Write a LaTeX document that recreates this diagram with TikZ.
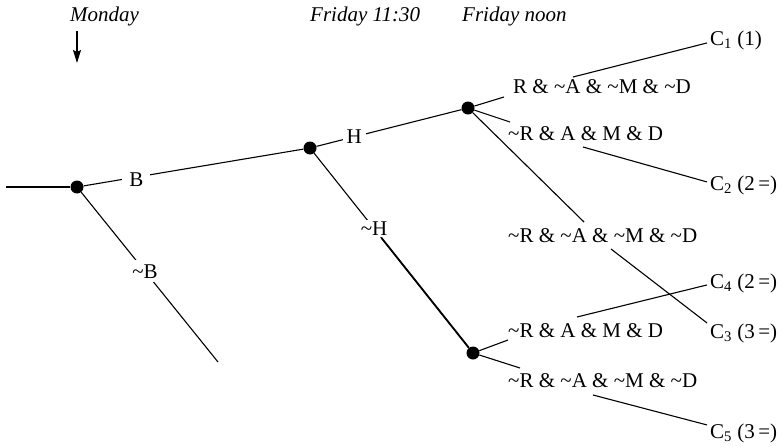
\documentclass[tikz,border=0pt]{standalone}
\usepackage{fontspec}
\setmainfont{Liberation Serif}
\usetikzlibrary{arrows.meta}
\newcommand\nt{\textasciitilde}
\begin{document}
\begin{tikzpicture}[x=1pt,y=-1pt,
  every node/.style={font=\fontsize{21}{25}\selectfont},
  ln/.style={line width=1.1pt},
  dot/.style={circle,fill=black,inner sep=0pt,minimum size=13pt},
  lbl/.style={fill=white,inner sep=4pt},
  txt/.style={anchor=base west,inner sep=0pt},
  cl/.style={anchor=base west,inner xsep=3pt,inner ysep=2pt},
  ttl/.style={anchor=base west,inner sep=0pt,font=\fontsize{21}{25}\selectfont\itshape}]
\useasboundingbox (0,0) rectangle (782,447);
% titles
\node[ttl] (mon) at (70,21) {Monday};
\node[ttl] (f1130) at (310,21) {Friday 11:30};
\node[ttl] (fnoon) at (462,21) {Friday noon};
\coordinate (a0) at (77,31);
\coordinate (a1) at (77,63);
\draw[ln,-{Stealth[length=13pt,width=8pt,inset=2pt]}] (a0) -- (a1);
% decision/chance points
\node[dot] (n1) at (77,187) {};
\node[dot] (n2) at (310,148) {};
\node[dot] (n3) at (468,108) {};
\node[dot] (n4) at (473,353) {};
\coordinate (in0) at (6,187);
\coordinate (bend) at (218,362);
% state texts
\node[txt] (t1) at (513,93) {R \& \nt A \& \nt M \& \nt D};
\node[txt] (t2) at (508,140) {\nt R \& A \& M \& D};
\node[txt] (t3) at (508,242) {\nt R \& \nt A \& \nt M \& \nt D};
\node[txt] (t4) at (508,337) {\nt R \& A \& M \& D};
\node[txt] (t5) at (508,387) {\nt R \& \nt A \& \nt M \& \nt D};
% outcomes
\node[cl] (c1) at (707,45) {C\textsubscript{1} (1)};
\node[cl] (c2) at (707,190) {C\textsubscript{2} (2\,=)};
\node[cl] (c3) at (707,338) {C\textsubscript{3} (3\,=)};
\node[cl] (c4) at (707,288) {C\textsubscript{4} (2\,=)};
\node[cl] (c5) at (707,438) {C\textsubscript{5} (3\,=)};
% branch ends near texts
\coordinate (e1) at (504,97);
\coordinate (e2) at (510,122);
\coordinate (e3) at (584,222);
\coordinate (e4) at (508,340);
\coordinate (e5) at (520,368);
\coordinate (s1) at (573,77);
\coordinate (s2) at (583,147);
\coordinate (s3) at (611,249);
\coordinate (s4) at (577,317);
\coordinate (s5) at (593,395);
% connectors
\draw[ln] (in0) -- (n1);
\draw[ln] (n1) -- node[lbl,pos=0.24,yshift=-3pt,inner xsep=7pt] (lB) {B} (n2);
\draw[ln] (n2) -- node[lbl,pos=0.26] (lH) {H} (n3);
\draw[ln] (n1) -- node[lbl,pos=0.466] (lnB) {\nt B} (bend);
\draw[ln] (n2) -- node[lbl,pos=0.387,inner sep=2pt] (lnH) {\nt H} (n4);
\draw[line width=1.8pt] (lnH) -- (n4);
\draw[ln] (n3) -- (e1);
\draw[ln] (n3) -- (e2);
\draw[ln] (n3) -- (e3);
\draw[ln] (n4) -- (e4);
\draw[ln] (n4) -- (e5);
\draw[ln] (s1) -- ([yshift=-3pt]c1.west);
\draw[ln] (s2) -- ([yshift=3pt]c2.west);
\draw[ln] (s3) -- ([yshift=10pt]c3.west);
\draw[ln] (s4) -- ([yshift=-2pt]c4.west);
\draw[ln] (s5) -- ([yshift=8pt]c5.west);
\end{tikzpicture}
\end{document}
